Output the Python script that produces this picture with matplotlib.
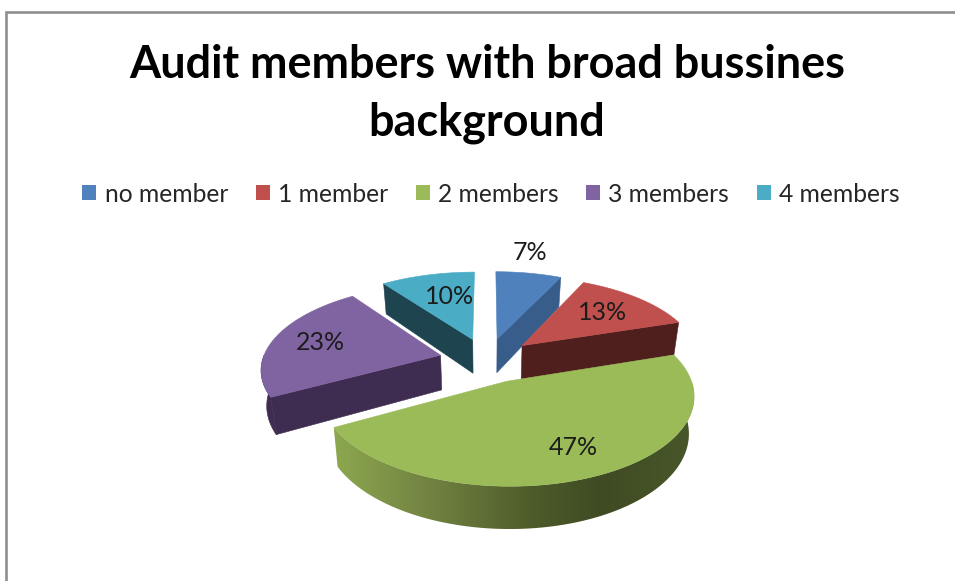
import numpy as np
import matplotlib
matplotlib.use("Agg")
import matplotlib.pyplot as plt
from matplotlib.patches import Patch, Polygon
from matplotlib.lines import Line2D

plt.rcParams['font.family'] = ['Lato', 'DejaVu Sans']

# Chart content
title_text = "Audit members with broad bussines\nbackground"
categories = ["no member", "1 member", "2 members", "3 members", "4 members"]
shares = [7, 13, 47, 23, 10]

# Styling per slice
top_colors = ["#4F81BD", "#C0504D", "#9BBB59", "#8064A2", "#4BACC6"]
wall_colors = ["#385D8A", "#4F1F1D", "#3F4C23", "#3F2D51", "#1E4450"]
draw_order = [4, 0, 3, 1, 2]
label_radius = [1.36, 0.67, 0.74, 0.72, 0.63]
label_turn_deg = [-2.5, 0.0, -1.5, 0.0, 4.0]

# Projection of the tilted pie onto the canvas
CX, CY = 487.0, 360.0
RADIUS, EXPLODE, DEPTH = 178.0, 48.0, 35.0
TILT, PERSPECTIVE, BASE_SHRINK = 0.465, 0.00082, 0.975


def project(u, v, lower=False):
    f = 1.0 / (1.0 + PERSPECTIVE * np.asarray(v, dtype=float))
    if lower:
        return CX + u * f * BASE_SHRINK, CY - TILT * v * f + DEPTH * f
    return CX + u * f, CY - TILT * v * f


def outer(theta, ox, oy):
    return ox + RADIUS * np.sin(theta), oy + RADIUS * np.cos(theta)


def green_shade(x):
    # Horizontal light falloff along the rim of the large slice
    stops = [330, 420, 530, 600, 690]
    rgb = np.array([[0x8E, 0xA9, 0x50], [0x74, 0x86, 0x43], [0x4E, 0x5C, 0x2B],
                    [0x3F, 0x4B, 0x23], [0x48, 0x57, 0x2A]], dtype=float) / 255
    return np.stack([np.interp(x, stops, rgb[:, k]) for k in range(3)], axis=-1)


fig = plt.figure(figsize=(9.55, 5.81), dpi=100, facecolor="white")
ax = fig.add_axes([0, 0, 1, 1])
ax.set_xlim(0, 955)
ax.set_ylim(581, 0)
ax.axis("off")

# Chart-area frame: only the top and left edges fall inside the canvas
ax.add_line(Line2D([6, 6, 955], [581, 11.5, 11.5], color="#8E8E8E", lw=1.9,
                   solid_joinstyle="miter", zorder=0.5))

edges = np.radians(np.concatenate([[0], np.cumsum(shares)]) * 3.6)
mids = (edges[:-1] + edges[1:]) / 2

for rank, i in enumerate(draw_order, start=1):
    a, b, m = edges[i], edges[i + 1], mids[i]
    ox, oy = EXPLODE * np.sin(m), EXPLODE * np.cos(m)

    # Radial side walls that face the viewer
    for ang, visible in ((a, np.sin(a) < -1e-6), (b, np.sin(b) > 1e-6)):
        if visible:
            u1, v1 = outer(ang, ox, oy)
            p = [project(ox, oy), project(u1, v1),
                 project(u1, v1, True), project(ox, oy, True)]
            ax.add_patch(Polygon(p, closed=True, fc=wall_colors[i],
                                 ec=wall_colors[i], lw=0.4, zorder=rank + 0.1))

    # Front-facing part of the rim
    lo, hi = max(a, np.pi / 2), min(b, 3 * np.pi / 2)
    if hi > lo:
        us, vs = outer(np.linspace(lo, hi, 160), ox, oy)
        tx, ty = project(us, vs)
        bx, by = project(us, vs, True)
        rim = np.r_[np.c_[tx, ty], np.c_[bx, by][::-1]]
        if i == 2:
            # The large slice's rim carries a horizontal gradient
            x0, x1 = rim[:, 0].min(), rim[:, 0].max()
            y0, y1 = rim[:, 1].min(), rim[:, 1].max()
            clip = Polygon(rim, closed=True, transform=ax.transData)
            shade = green_shade(np.linspace(x0, x1, 512))[np.newaxis, :, :]
            im = ax.imshow(shade, extent=(x0, x1, y1, y0), aspect="auto",
                           interpolation="bilinear", zorder=rank + 0.2)
            im.set_clip_path(clip)
            ax.set_xlim(0, 955)
            ax.set_ylim(581, 0)
        else:
            ax.add_patch(Polygon(rim, closed=True, fc=wall_colors[i],
                                 ec=wall_colors[i], lw=0.4, zorder=rank + 0.2))

    # Top face
    us, vs = outer(np.linspace(a, b, 120), ox, oy)
    xs, ys = project(np.r_[ox, us], np.r_[oy, vs])
    ax.add_patch(Polygon(np.c_[xs, ys], closed=True, fc=top_colors[i],
                         ec=top_colors[i], lw=0.4, zorder=rank + 0.3))

# Percentage labels placed near each slice's mid-angle
for i, share in enumerate(shares):
    m = mids[i]
    ox, oy = EXPLODE * np.sin(m), EXPLODE * np.cos(m)
    r = RADIUS * label_radius[i]
    t = m + np.radians(label_turn_deg[i])
    x, y = project(ox + r * np.sin(t), oy + r * np.cos(t))
    ax.text(x, y, f"{share}%", ha="center", va="center", fontsize=18,
            color="#1C1C1C", zorder=10)

ax.text(487, 94, title_text, ha="center", va="center", fontsize=32.4,
        fontweight="bold", color="black", linespacing=1.43)

handles = [Patch(fc=c, ec="none") for c in top_colors]
ax.legend(handles, categories, ncol=5, loc="center", frameon=False,
          bbox_to_anchor=(491, 194), bbox_transform=ax.transData,
          fontsize=17.7, labelcolor="#262626", handlelength=0.57,
          handleheight=0.57, handletextpad=0.33, columnspacing=1.13,
          borderpad=0, borderaxespad=0)

fig.savefig("out.png", dpi=100)
